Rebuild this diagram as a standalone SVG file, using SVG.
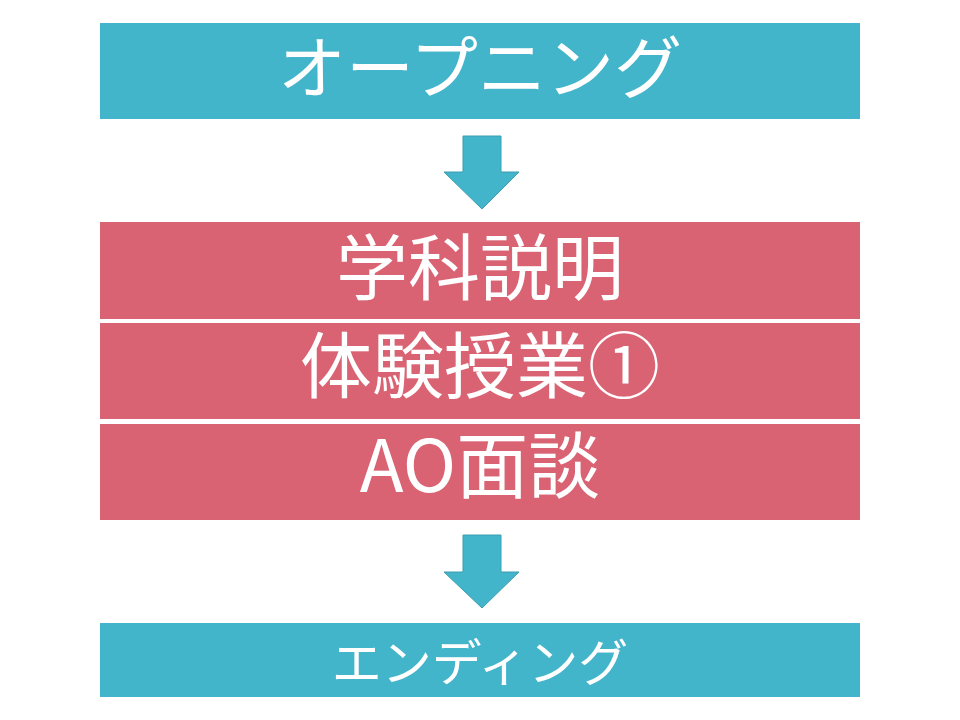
<svg xmlns="http://www.w3.org/2000/svg" width="960" height="720" viewBox="0 0 960 720">
<style>
.teal{fill:#43B5CA}
.pink{fill:#D96373}
.arrow{fill:#43B5CA;stroke:#3A9EB1;stroke-width:1}
text{font-family:"Noto Sans CJK JP","Noto Sans",sans-serif;fill:#FFFFFF;text-anchor:middle}
.big{font-size:72px}
.top{font-size:68px}
.small{font-size:50px}
</style>
<rect width="960" height="720" fill="#FFFFFF"/>
<g id="opening">
<rect class="teal" x="100" y="23" width="760" height="96"/>
<text class="top" x="480" y="93">オープニング</text>
</g>
<g id="gakka">
<rect class="pink" x="100" y="222" width="760" height="97"/>
<text class="big" x="480" y="294">学科説明</text>
</g>
<g id="taiken">
<rect class="pink" x="100" y="323" width="760" height="96"/>
<text class="big" x="480" y="392">体験授業①</text>
</g>
<g id="ao">
<rect class="pink" x="100" y="424" width="760" height="96"/>
<text class="big" x="480" y="492">AO面談</text>
</g>
<g id="ending">
<rect class="teal" x="100" y="623" width="760" height="74"/>
<text class="small" x="480" y="681">エンディング</text>
</g>
<g id="connectors">
<polygon class="arrow" points="463,136 501,136 501,172 519,172 482,209 444,172 463,172"/>
<polygon class="arrow" points="463,535 501,535 501,572 519,572 482,608 444,572 463,572"/>
</g>
</svg>
